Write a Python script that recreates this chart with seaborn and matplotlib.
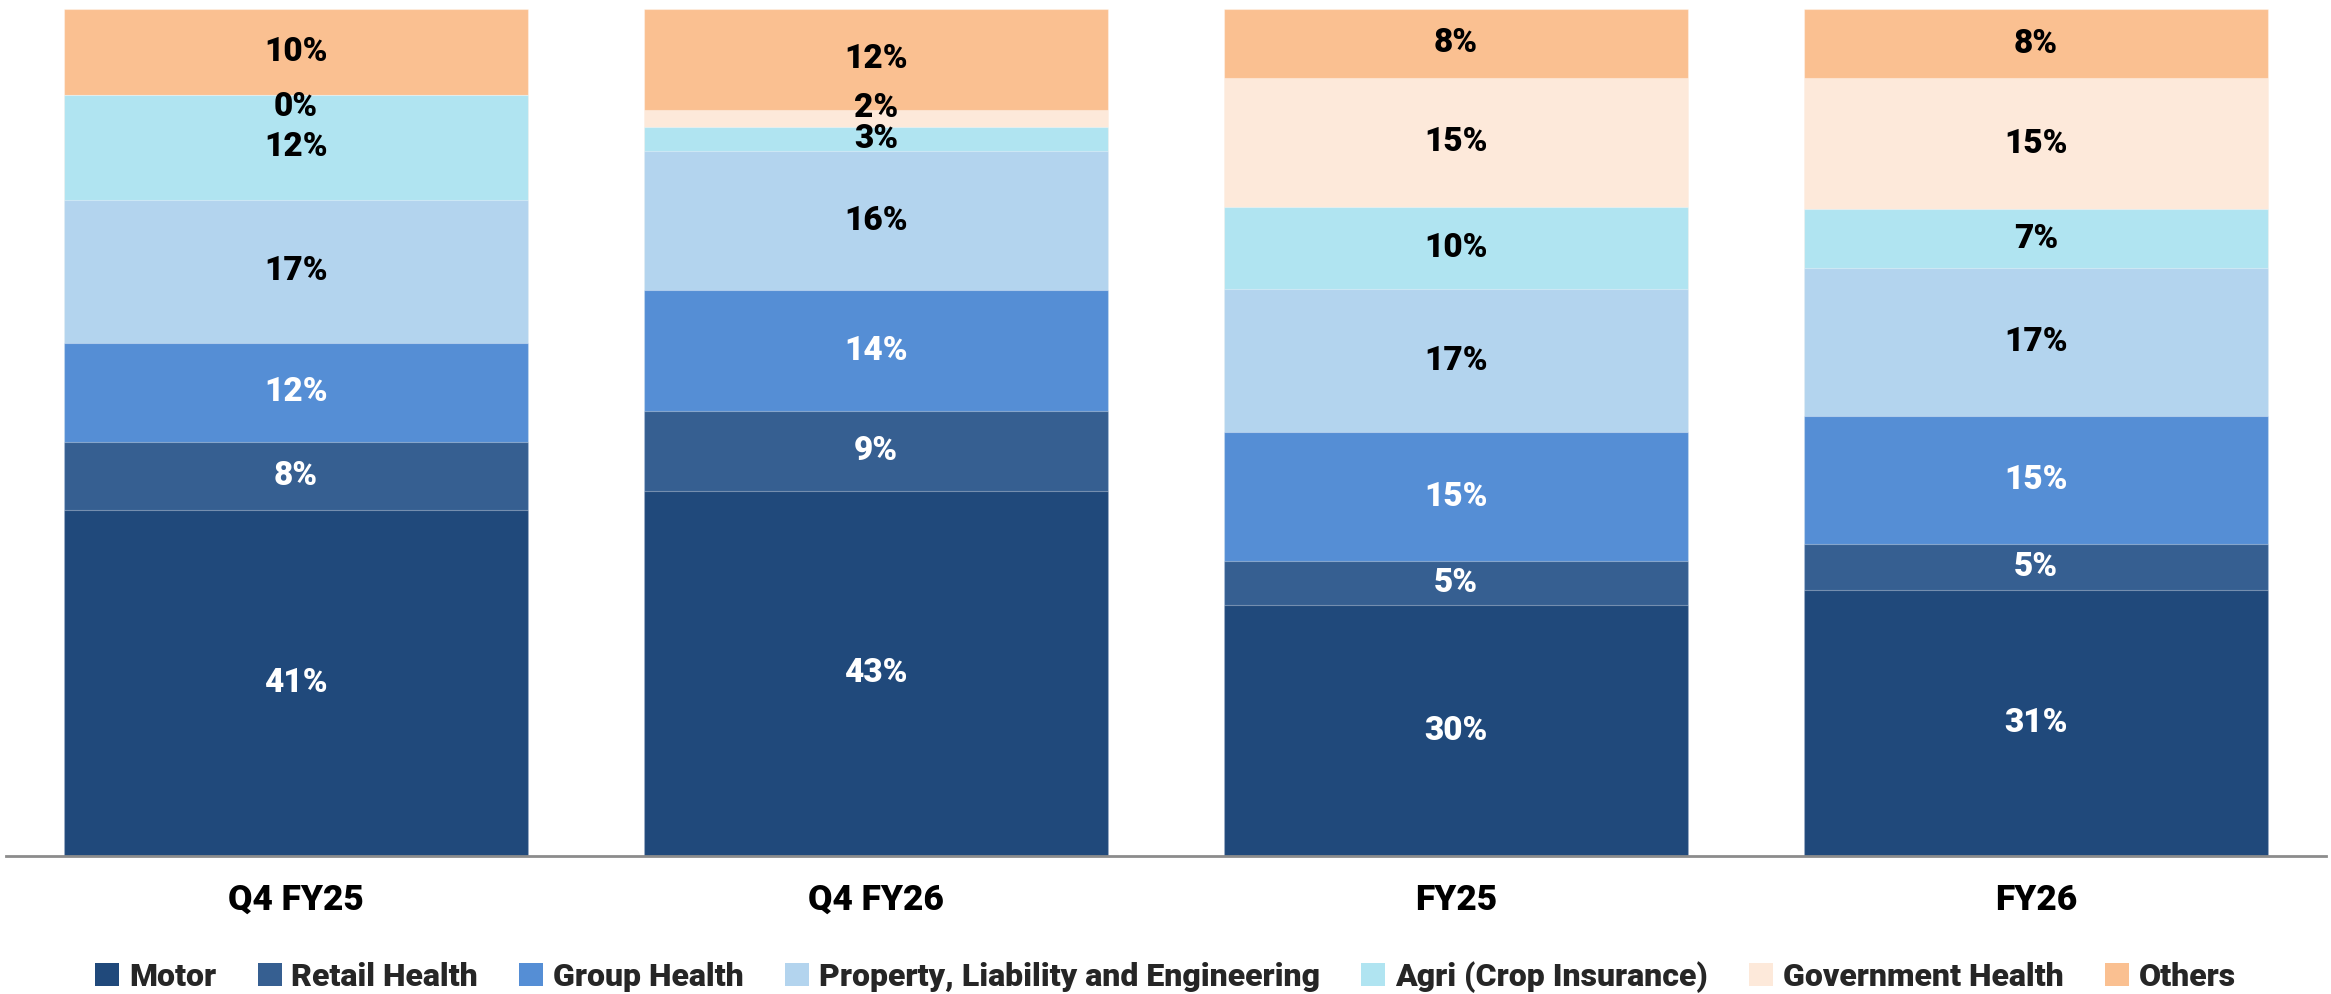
import matplotlib
matplotlib.use("Agg")
import matplotlib.pyplot as plt
from matplotlib.patches import Patch
from matplotlib import font_manager
import seaborn as sns
import numpy as np

categories = ["Q4 FY25", "Q4 FY26", "FY25", "FY26"]
segments = ["Motor", "Retail Health", "Group Health",
            "Property, Liability and Engineering", "Agri (Crop Insurance)",
            "Government Health", "Others"]
motor = [40.8, 43.1, 29.6, 31.4]
retail_health = [8.1, 9.4, 5.2, 5.4]
group_health = [11.7, 14.3, 15.2, 15.2]
property_liab_eng = [16.9, 16.4, 16.9, 17.4]
agri = [12.3, 2.9, 9.7, 7.0]
government_health = [0.0, 2.0, 15.3, 15.4]
others = [10.2, 11.9, 8.1, 8.2]

series = [motor, retail_health, group_health, property_liab_eng, agri,
          government_health, others]
colors = ["#20497B", "#365F91", "#558ED5", "#B3D4EE", "#B0E4F1",
          "#FDE9DA", "#FAC091"]
label_colors = ["white", "white", "white", "black", "black", "black", "black"]

sns.set_theme(style="white")
plt.rcParams["font.family"] = ["Roboto", "DejaVu Sans"]

# pick heaviest available Roboto weight
weights = [f.weight for f in font_manager.fontManager.ttflist if f.name == "Roboto"]
heavy = 900 if any((w == 900 or w == "black" or w == "heavy") for w in weights) else "bold"
print("Roboto weights:", sorted(set(map(str, weights))))

fig = plt.figure(figsize=(23.31, 9.94), dpi=100)
ax = fig.add_axes([6 / 2331, 138 / 994, 2320 / 2331, 847 / 994])

vals = np.array(series)
cum = np.cumsum(vals, axis=0)
for i in range(len(series) - 1, -1, -1):
    sns.barplot(x=categories, y=list(cum[i]), color=colors[i], ax=ax,
                width=0.8, saturation=1, edgecolor=(1, 1, 1, 0.35),
                linewidth=0.8, order=categories)

nudge = {(0, 5): -12, (1, 5): 10}
for i in range(len(series)):
    for j in range(len(categories)):
        v = vals[i, j]
        bottom = cum[i, j] - v
        mid = bottom + v / 2
        dy = nudge.get((j, i), 0) * 0.72
        ax.annotate(f"{v:.0f}%", xy=(j, mid), xytext=(0, dy),
                    textcoords="offset points", ha="center", va="center",
                    fontsize=24, fontweight=heavy, color=label_colors[i])

ax.set_xlim(-0.5, 3.5)
ax.set_ylim(0, 100)
ax.set_yticks([])
ax.set_ylabel("")
for s in ["top", "right", "left"]:
    ax.spines[s].set_visible(False)
ax.spines["bottom"].set_color("#8C8C8C")
ax.spines["bottom"].set_linewidth(2)
ax.tick_params(axis="x", length=0, pad=20)
for t in ax.get_xticklabels():
    t.set_fontsize(25.5)
    t.set_fontweight(heavy)
    t.set_color("black")

handles = [Patch(facecolor=c, edgecolor="none") for c in colors]
fig.legend(handles, segments, loc="center", bbox_to_anchor=(0.5, 1 - 977 / 994),
           ncol=7, frameon=False, prop={"size": 23, "weight": heavy},
           handlelength=0.75, handleheight=0.75, handletextpad=0.3,
           columnspacing=1.3)

fig.savefig("out.png", dpi=100)
